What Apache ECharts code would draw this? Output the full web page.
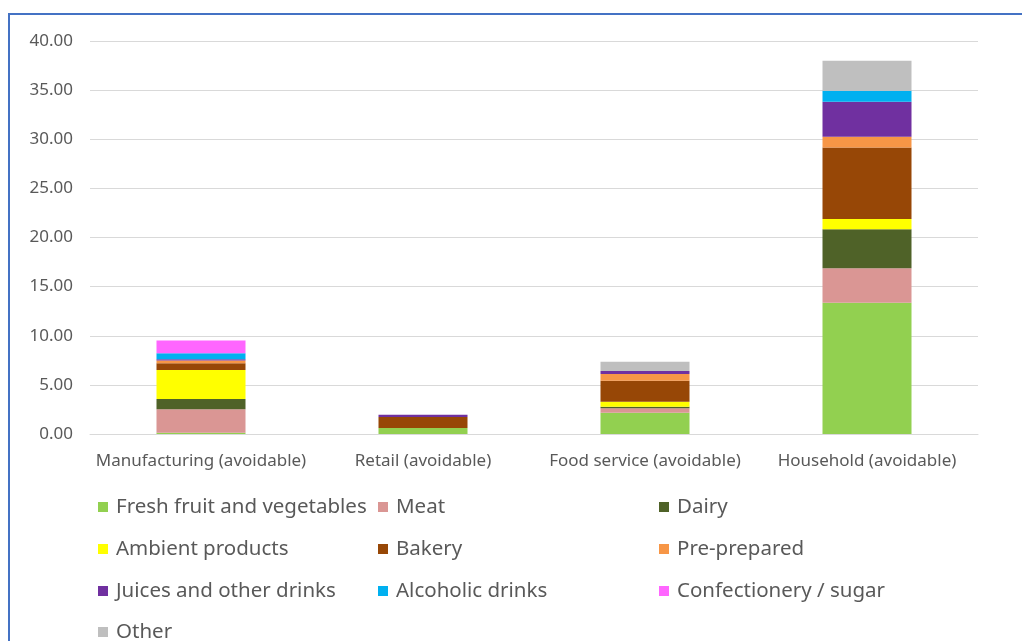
<!DOCTYPE html>
<html>
<head>
<meta charset="utf-8">
<script src="https://cdn.jsdelivr.net/npm/echarts@6/dist/echarts.min.js"></script>
<style>
html,body{margin:0;padding:0;background:#fff;}
#chart{position:absolute;left:0;top:0;width:1022px;height:641px;}
#frame{position:absolute;left:8px;top:13px;width:1040px;height:700px;border:2px solid #4472C4;box-sizing:border-box;pointer-events:none;}
</style>
</head>
<body>
<div id="chart"></div>
<div id="frame"></div>
<script>
const categories = ["Manufacturing (avoidable)", "Retail (avoidable)", "Food service (avoidable)", "Household (avoidable)"];
const yTicks = [0, 5, 10, 15, 20, 25, 30, 35, 40];

const fresh = [0.12, 0.6, 2.17, 13.37];
const meat = [2.4, 0, 0.44, 3.49];
const dairy = [1.05, 0, 0.17, 3.97];
const ambient = [2.95, 0, 0.51, 1.05];
const bakery = [0.68, 1.12, 2.14, 7.29];
const prePrepared = [0.27, 0, 0.68, 1.09];
const juices = [0.14, 0.24, 0.3, 3.56];
const alcoholic = [0.61, 0, 0, 1.12];
const confectionery = [1.29, 0, 0, 0];
const other = [0, 0, 0.95, 3.06];

const seriesDefs = [
  ["Fresh fruit and vegetables", fresh, "#92D050"],
  ["Meat", meat, "#DA9694"],
  ["Dairy", dairy, "#4F6228"],
  ["Ambient products", ambient, "#FFFF00"],
  ["Bakery", bakery, "#974706"],
  ["Pre-prepared", prePrepared, "#F79646"],
  ["Juices and other drinks", juices, "#7030A0"],
  ["Alcoholic drinks", alcoholic, "#00B0F0"],
  ["Confectionery / sugar", confectionery, "#FF66FF"],
  ["Other", other, "#BFBFBF"]
];

const FONT = "Noto Sans";
// legend layout: 3 columns, rows of 42px
const colLeft = [98, 378, 659];
const rowCenter = [507, 549, 591, 632];
const legends = seriesDefs.map((d, i) => ({
  orient: "horizontal",
  left: colLeft[i % 3],
  top: rowCenter[Math.floor(i / 3)] - 12,
  padding: 0,
  itemWidth: 10,
  itemHeight: 10,
  icon: "rect",
  selectedMode: false,
  data: [d[0]],
  textStyle: {fontFamily: FONT, fontSize: 20.5, color: "#595959", lineHeight: 24, padding: [0, 0, 0, 3]}
}));

const chart = echarts.init(document.getElementById("chart"), null, {renderer: "canvas"});
chart.setOption({
  animation: false,
  color: seriesDefs.map(d => d[2]),
  grid: {left: 90, right: 44, top: 41, bottom: 207, containLabel: false},
  legend: legends,
  xAxis: {
    type: "category",
    data: categories,
    axisLine: {show: true, lineStyle: {color: "#D9D9D9", width: 1}},
    axisTick: {show: false},
    axisLabel: {interval: 0, fontFamily: FONT, fontSize: 17, color: "#595959", margin: 19}
  },
  yAxis: {
    type: "value",
    min: yTicks[0],
    max: yTicks[yTicks.length - 1],
    interval: 5,
    axisLine: {show: false},
    axisTick: {show: false},
    splitLine: {lineStyle: {color: "#D9D9D9", width: 1}},
    axisLabel: {fontFamily: FONT, fontSize: 17, color: "#595959", margin: 17, formatter: v => v.toFixed(2)}
  },
  series: seriesDefs.map(d => ({
    name: d[0],
    type: "bar",
    stack: "total",
    data: d[1],
    barWidth: 89,
    itemStyle: {color: d[2]}
  }))
});
</script>
</body>
</html>
